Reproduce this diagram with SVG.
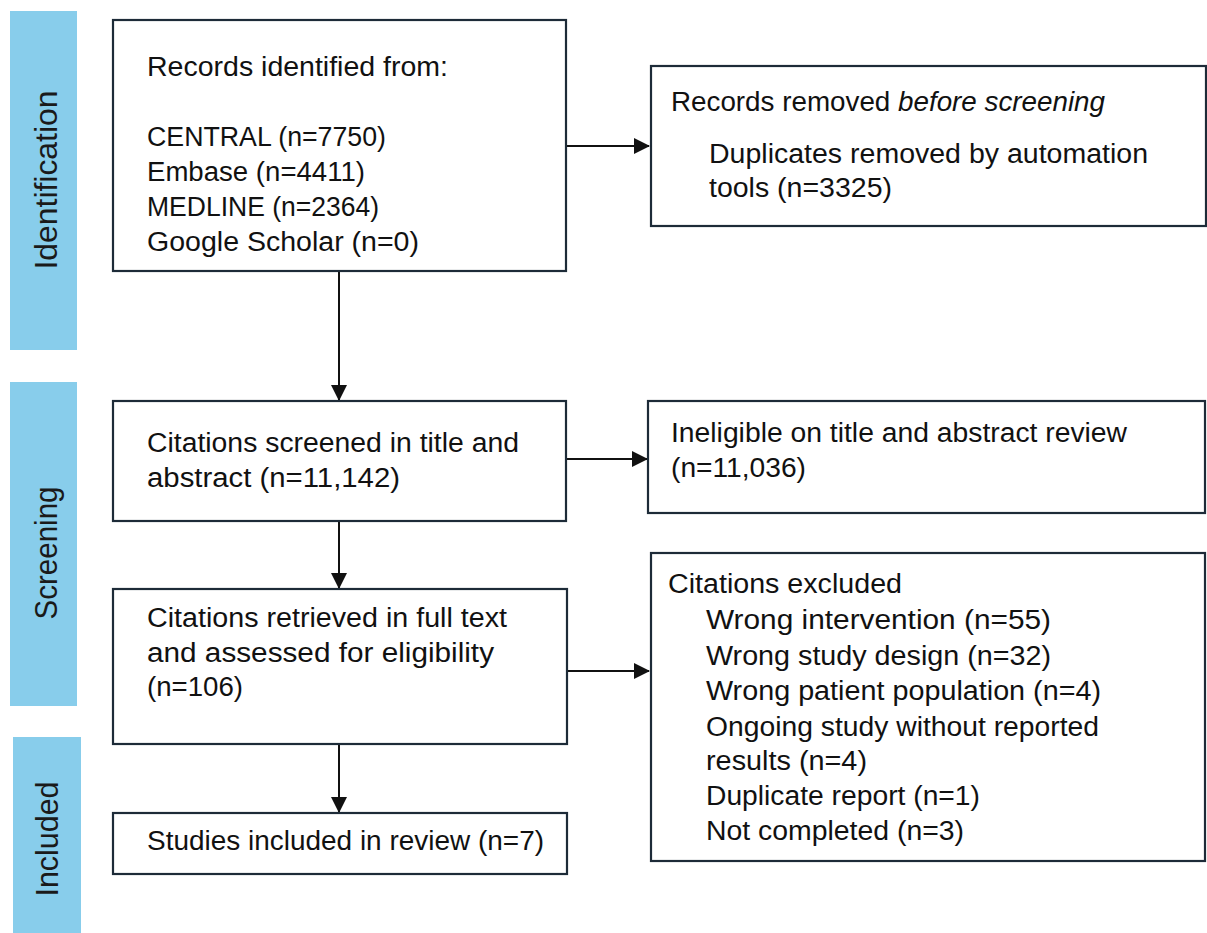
<svg xmlns="http://www.w3.org/2000/svg" width="1207" height="933" viewBox="0 0 1207 933">
<style>
.bar{fill:#88cdeb}
.box{fill:#fff;stroke:#1d2b38;stroke-width:2.2}
.t{font-family:"Liberation Sans",Arial,sans-serif;font-size:27px;fill:#111}
.side{font-family:"Liberation Sans",Arial,sans-serif;font-size:31px;fill:#1a1a1a;text-anchor:middle}
.c{stroke:#111;stroke-width:2;fill:none;marker-end:url(#ah)}
</style>
<defs>
<marker id="ah" viewBox="0 0 16 16" refX="15" refY="8" markerWidth="16" markerHeight="16" markerUnits="userSpaceOnUse" orient="auto">
<path d="M0,0 L16,8 L0,16 Z" fill="#111"/>
</marker>
</defs>
<rect width="1207" height="933" fill="#fff"/>
<g id="phase-identification">
<rect class="bar" x="10" y="11" width="67" height="339"/>
<text class="side" transform="translate(57,180) rotate(-90)" textLength="179" lengthAdjust="spacingAndGlyphs">Identification</text>
</g>
<g id="phase-screening">
<rect class="bar" x="10" y="382" width="67" height="324"/>
<text class="side" transform="translate(57,553) rotate(-90)" textLength="133" lengthAdjust="spacingAndGlyphs">Screening</text>
</g>
<g id="phase-included">
<rect class="bar" x="13" y="737" width="68" height="196"/>
<text class="side" transform="translate(58,839) rotate(-90)" textLength="115" lengthAdjust="spacingAndGlyphs">Included</text>
</g>
<g id="connectors">
<path class="c" d="M339,271 L339,400"/>
<path class="c" d="M339,521 L339,588"/>
<path class="c" d="M339,744 L339,812"/>
<path class="c" d="M567,146 L649,146"/>
<path class="c" d="M567,459 L647,459"/>
<path class="c" d="M567,671 L649,671"/>
</g>
<g id="records-identified">
<rect class="box" x="113" y="20" width="453" height="251"/>
<text class="t" x="147" y="76" textLength="301" lengthAdjust="spacingAndGlyphs">Records identified from:</text>
<text class="t" x="147" y="146" textLength="239" lengthAdjust="spacingAndGlyphs">CENTRAL (n=7750)</text>
<text class="t" x="147" y="181" textLength="218" lengthAdjust="spacingAndGlyphs">Embase (n=4411)</text>
<text class="t" x="147" y="216" textLength="232" lengthAdjust="spacingAndGlyphs">MEDLINE (n=2364)</text>
<text class="t" x="147" y="251" textLength="272" lengthAdjust="spacingAndGlyphs">Google Scholar (n=0)</text>
</g>
<g id="records-removed">
<rect class="box" x="651" y="66" width="555" height="160"/>
<text class="t" x="671" y="111" textLength="434" lengthAdjust="spacingAndGlyphs">Records removed <tspan font-style="italic">before screening</tspan></text>
<text class="t" x="709" y="163" textLength="439" lengthAdjust="spacingAndGlyphs">Duplicates removed by automation</text>
<text class="t" x="709" y="197" textLength="183" lengthAdjust="spacingAndGlyphs">tools (n=3325)</text>
</g>
<g id="citations-screened">
<rect class="box" x="113" y="401" width="453" height="120"/>
<text class="t" x="147" y="452" textLength="372" lengthAdjust="spacingAndGlyphs">Citations screened in title and</text>
<text class="t" x="147" y="487" textLength="253" lengthAdjust="spacingAndGlyphs">abstract (n=11,142)</text>
</g>
<g id="ineligible">
<rect class="box" x="648" y="401" width="557" height="112"/>
<text class="t" x="671" y="442" textLength="456" lengthAdjust="spacingAndGlyphs">Ineligible on title and abstract review</text>
<text class="t" x="671" y="477" textLength="135" lengthAdjust="spacingAndGlyphs">(n=11,036)</text>
</g>
<g id="citations-retrieved">
<rect class="box" x="113" y="589" width="454" height="155"/>
<text class="t" x="147" y="627" textLength="360" lengthAdjust="spacingAndGlyphs">Citations retrieved in full text</text>
<text class="t" x="147" y="662" textLength="347" lengthAdjust="spacingAndGlyphs">and assessed for eligibility</text>
<text class="t" x="147" y="696" textLength="96" lengthAdjust="spacingAndGlyphs">(n=106)</text>
</g>
<g id="citations-excluded">
<rect class="box" x="651" y="553" width="554" height="308"/>
<text class="t" x="668" y="593" textLength="234" lengthAdjust="spacingAndGlyphs">Citations excluded</text>
<text class="t" x="706" y="629" textLength="345" lengthAdjust="spacingAndGlyphs">Wrong intervention (n=55)</text>
<text class="t" x="706" y="665" textLength="345" lengthAdjust="spacingAndGlyphs">Wrong study design (n=32)</text>
<text class="t" x="706" y="700" textLength="395" lengthAdjust="spacingAndGlyphs">Wrong patient population (n=4)</text>
<text class="t" x="706" y="736" textLength="393" lengthAdjust="spacingAndGlyphs">Ongoing study without reported</text>
<text class="t" x="706" y="770" textLength="161" lengthAdjust="spacingAndGlyphs">results (n=4)</text>
<text class="t" x="706" y="805" textLength="274" lengthAdjust="spacingAndGlyphs">Duplicate report (n=1)</text>
<text class="t" x="706" y="840" textLength="258" lengthAdjust="spacingAndGlyphs">Not completed (n=3)</text>
</g>
<g id="studies-included">
<rect class="box" x="113" y="813" width="454" height="61"/>
<text class="t" x="147" y="850" textLength="397" lengthAdjust="spacingAndGlyphs">Studies included in review (n=7)</text>
</g>
</svg>
